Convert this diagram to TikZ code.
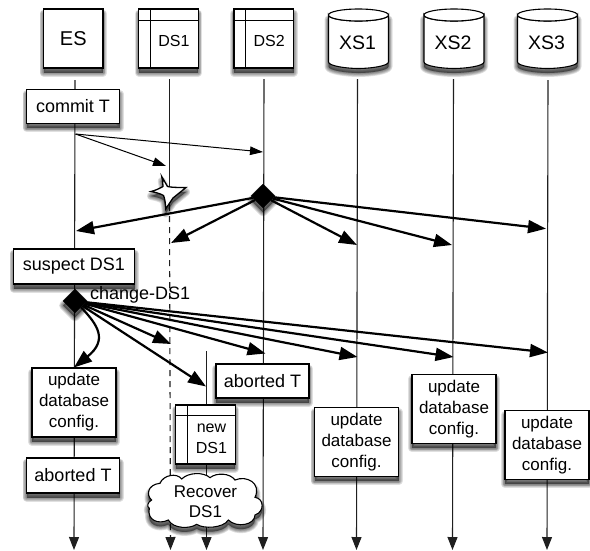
\documentclass[tikz,border=0pt]{standalone}
\usepackage{fontspec}
\setmainfont{Liberation Sans}
\usetikzlibrary{arrows.meta,shapes.geometric}
\tikzset{
  shl/.style={preaction={fill=black,draw=black,fill opacity=0.12,draw opacity=0.12,line width=#1,line join=round,transform canvas={yshift=-4.5pt}}},
  shad/.style={shl=8pt,shl=6.4pt,shl=4.8pt,shl=3.2pt,shl=1.6pt},
  base/.style={draw=black,line width=1.1pt,fill=white,align=center,inner sep=0pt,shad},
  boxn/.style={base,rectangle,font=\fontsize{18}{21}\selectfont},
  upd/.style={base,rectangle,minimum width=84pt,minimum height=69pt,font=\fontsize{17}{21}\selectfont},
  tbl/.style={base,rectangle,minimum width=59.5pt,minimum height=59pt,font=\fontsize{16}{20.5}\selectfont},
  life/.style={draw=black!88,line width=1.1pt},
  lifearrow/.style={life,-{Triangle[length=13pt,width=10pt]}},
  thin arrow/.style={draw=black,line width=1pt,-{Triangle[length=13pt,width=8.5pt]}},
  thick arrow/.style={draw=black,line width=2.2pt,-{Triangle[length=18pt,width=13pt]}},
  inner line/.style={draw=black,line width=1.1pt},
  dia/.style={diamond,fill=black,draw=black,minimum size=24pt,inner sep=0pt,shad},
}
\begin{document}
\begin{tikzpicture}[x=1pt,y=-1pt]
\useasboundingbox (0,0) rectangle (590,550);
% free ends
\foreach \n/\x/\y in {esT/75/80,esB/74/550,dsaT/169.5/79,dsaM/169.5/205,dsaB/170.5/550,dsbT/264/79,dsbB/263/550,
  xaT/357.5/79,xaB/356.5/550,xbT/453.5/79,xbB/452.5/550,xcT/548/80,xcB/547/550,ndT/206.5/351,ndB/206.5/550,
  a1/75.5/134,a2/263/152,a3/166/166,b1/76/231,b2/171/243,b3/357/245,b4/452/245,b5/546/228.7,
  c1/171/344,c2/206/386.5,c3/265.5/353.5,c4/357.5/357,c5/453.5/357,c6/548/352.5}
  {\coordinate (\n) at (\x,\y);}
% lifelines
\draw[lifearrow] (esT) -- (esB);
\draw[life] (dsaT) -- (dsaM);
\draw[lifearrow,dash pattern=on 6pt off 5pt] (dsaM) -- (dsaB);
\draw[lifearrow] (dsbT) -- (dsbB);
\draw[lifearrow] (xaT) -- (xaB);
\draw[lifearrow] (xbT) -- (xbB);
\draw[lifearrow] (xcT) -- (xcB);
\draw[lifearrow] (ndT) -- (ndB);
% heads
\node[boxn,minimum width=59.5pt,minimum height=59pt,font=\fontsize{20}{24}\selectfont] (es) at (73.25,38.5) {ES};
\foreach \n/\x/\t in {ds1/168.5/DS1,ds2/263.75/DS2}{
  \node[tbl] (\n) at (\x,38.5) {};
  \draw[inner line] ([xshift=12pt]\n.north west) -- ([xshift=12pt]\n.south west);
  \draw[inner line] ([yshift=-12pt]\n.north west) -- ([yshift=-12pt]\n.north east);
  \node[font=\fontsize{16}{20}\selectfont,inner sep=0pt] (\n t) at (\x+5.5,41) {\t};
}
\foreach \n/\x/\t in {xs1/358.5/XS1,xs2/454/XS2,xs3/547.5/XS3}{
  \path[base] (\x-30,15) arc[start angle=180,end angle=0,x radius=30,y radius=6] -- (\x+30,62) .. controls (\x+30,66) and (\x+12,68.5) .. (\x,68.5) .. controls (\x-12,68.5) and (\x-30,66) .. (\x-30,62) -- cycle;
  \draw[inner line,fill=white] (\x-30,15) arc[start angle=180,end angle=360,x radius=30,y radius=6] arc[start angle=0,end angle=180,x radius=30,y radius=6];
  \node[font=\fontsize{19.5}{24}\selectfont,inner sep=0pt] (\n) at (\x-1,43) {\t};
}
% boxes
\node[boxn,minimum width=93pt,minimum height=34pt] (commit) at (73,106.5) {commit T};
% thin arrows
\draw[thin arrow] (a1) -- (a2);
\draw[thin arrow] (a1) -- (a3);
% star
\path[base,line width=1.3pt,line join=miter] (161.7,176.5) -- (167.5,186.5) .. controls (172,187.5) and (178,187.5) .. (186,187.5) -- (173,198) .. controls (170.5,202) and (168,205) .. (165.8,209) .. controls (165.5,204) and (165,199) .. (163.5,195.5) .. controls (160,193.5) and (156,192.5) .. (151,191.5) .. controls (155,190.5) and (158.5,189) .. (163,186.5) .. controls (163,183) and (162.5,180) .. (161.7,176.5) -- cycle;
% DS2 fan
\node[dia] (d2) at (263,196) {};
\draw[thick arrow] (d2) -- (b1);
\draw[thick arrow] (d2) -- (b2);
\draw[thick arrow] (d2) -- (b3);
\draw[thick arrow] (d2) -- (b4);
\draw[thick arrow] (d2) -- (b5);
% suspect
\node[boxn,minimum width=121pt,minimum height=35pt] (suspect) at (74,266.5) {suspect DS1};
\node[dia] (d1) at (75,301) {};
\node[font=\fontsize{18}{21}\selectfont,inner sep=0pt,anchor=west] (chg) at (90,295) {change-DS1};
% lower boxes
\node[boxn,minimum width=93pt,minimum height=34pt] (abT) at (262.5,381) {aborted T};
\node[boxn,minimum width=93pt,minimum height=35pt] (abE) at (73,475.5) {aborted T};
\node[upd] (u1) at (74,402.5) {update\\database\\config.};
\node[upd] (u2) at (356.5,442) {update\\database\\config.};
\node[upd] (u3) at (454,409) {update\\database\\config.};
\node[upd] (u4) at (547,445) {update\\database\\config.};
\node[tbl] (nds) at (205.5,434.5) {};
\draw[inner line] ([xshift=12pt]nds.north west) -- ([xshift=12pt]nds.south west);
\draw[inner line] ([yshift=-11pt]nds.north west) -- ([yshift=-11pt]nds.north east);
\node[font=\fontsize{16}{20.5}\selectfont,inner sep=0pt,align=center] (ndst) at (211.5,439) {new\\DS1};
% cloud
\begin{scope}[shift={(140,465)},x=0.33333pt,y=-0.33333pt]
\path[base] (35,105) .. controls (18,92) and (22,58) .. (60,55)
  .. controls (70,30) and (110,22) .. (125,42)
  .. controls (145,22) and (190,20) .. (210,38)
  .. controls (230,22) and (270,24) .. (285,45)
  .. controls (320,30) and (365,55) .. (345,97)
  .. controls (372,100) and (375,140) .. (345,150)
  .. controls (345,180) and (290,190) .. (265,165)
  .. controls (250,190) and (190,192) .. (170,178)
  .. controls (150,192) and (100,192) .. (85,165)
  .. controls (55,180) and (20,165) .. (28,130)
  .. controls (20,125) and (22,112) .. (35,105) -- cycle;
\end{scope}
\node[font=\fontsize{17}{20}\selectfont,inner sep=0pt,align=center] (rec) at (205.5,501.5) {Recover\\DS1};
% change fan
\draw[thick arrow] (d1) -- (c1);
\draw[thick arrow] (d1) -- (c2);
\draw[thick arrow] (d1) -- (c3);
\draw[thick arrow] (d1) -- (c4);
\draw[thick arrow] (d1) -- (c5);
\draw[thick arrow] (d1) -- (c6);
\draw[thick arrow] (d1) .. controls (98,325) and (108,340) .. (u1.north);
\end{tikzpicture}
\end{document}
